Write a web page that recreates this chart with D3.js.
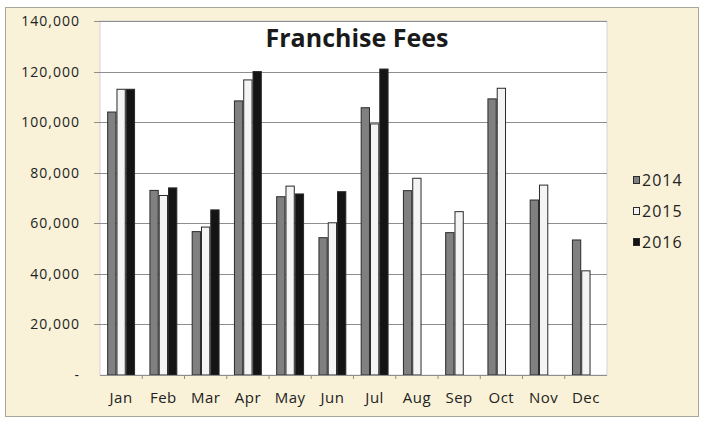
<!DOCTYPE html>
<html>
<head>
<meta charset="utf-8">
<script src="https://cdn.jsdelivr.net/npm/d3@7"></script>
<style>
  body { margin: 0; background: #fff; }
  svg { display: block; font-family: "Open Sans", sans-serif; }
</style>
</head>
<body>
<svg id="chart" width="701" height="421"></svg>
<script>
(function () {
    'use strict';

    const months = ["Jan", "Feb", "Mar", "Apr", "May", "Jun", "Jul", "Aug", "Sep", "Oct", "Nov", "Dec"];
    const years = ["2014", "2015", "2016"];
    const fees2014 = [104000, 73000, 56700, 108400, 70500, 54300, 105700, 72900, 56300, 109200, 69200, 53400];
    const fees2015 = [113000, 71000, 58500, 116700, 74700, 60200, 99300, 77800, 64600, 113400, 75100, 41200];
    const fees2016 = [113000, 74000, 65300, 120000, 71600, 72500, 121000, null, null, null, null, null];
    const yTicks = [0, 20000, 40000, 60000, 80000, 100000, 120000, 140000];

    const seriesValues = [fees2014, fees2015, fees2016];
    const fills = { "2014": "#808080", "2015": "#f4f4f4", "2016": "#141414" };

    const plot = { left: 100, right: 607, top: 21, bottom: 375 };

    const svg = d3.select('#chart');

    // cream frame
    svg.append("rect")
        .attr("x", 5.5).attr("y", 7.5)
        .attr("width", 693).attr("height", 409)
        .attr("fill", "#f9f2d9")
        .attr("stroke", "#a8a59a");

    svg.append("rect")
        .attr("x", plot.left).attr("y", plot.top)
        .attr("width", plot.right - plot.left).attr("height", plot.bottom - plot.top)
        .attr("fill", "#ffffff")
        .attr("stroke", "#d4d4d4");

    const x0 = d3.scaleBand()
            .domain(months)
            .range([plot.left, plot.right])
            .paddingInner(0.34)
            .paddingOuter(0.17);

    const x1 = d3.scaleBand()
            .domain(years)
            .range([0, x0.bandwidth()]);

    const y = d3.scaleLinear()
            .domain([0, 140000])
            .range([plot.bottom, plot.top]);

    // gridlines
    svg.append("g")
        .selectAll("line")
        .data(yTicks.slice(1))
        .join("line")
        .attr("x1", plot.left - 6).attr("x2", plot.right)
        .attr("y1", d => Math.round(y(d)) + 0.5)
        .attr("y2", d => Math.round(y(d)) + 0.5)
        .attr("stroke", "#8e8e8e")
        .attr("stroke-width", 1.2);

    // y labels
    svg.append("g")
        .attr("text-anchor", "end")
        .selectAll("text")
        .data(yTicks)
        .join("text")
        .attr("x", 80)
        .attr("y", d => y(d))
        .attr("dy", "0.36em")
        .attr("font-size", 14)
        .attr("letter-spacing", 1)
        .attr("fill", "#222")
        .text(d => d === 0 ? "-" : d3.format(",d")(d));

    // bars
    const rows = [];
    months.forEach((m, i) => {
        years.forEach((yr, j) => {
            if (seriesValues[j][i] != null) rows.push({ month: m, year: yr, value: seriesValues[j][i] });
        });
    });

    svg.append("g")
        .selectAll("rect")
        .data(rows)
        .join("rect")
        .attr("x", d => x0(d.month) + x1(d.year) + 0.5)
        .attr("y", d => y(d.value))
        .attr("width", x1.bandwidth() - 1)
        .attr("height", d => plot.bottom - y(d.value))
        .attr("fill", d => fills[d.year])
        .attr("stroke", "#2a2a2a")
        .attr("stroke-width", 1);

    // x axis line and ticks
    svg.append("line")
        .attr("x1", plot.left).attr("x2", plot.right)
        .attr("y1", plot.bottom + 0.5).attr("y2", plot.bottom + 0.5)
        .attr("stroke", "#8e8e8e");

    svg.append("g")
        .selectAll("line")
        .data(months.slice(1))
        .join("line")
        .attr("x1", d => x0(d) - x0.step() * x0.paddingInner() / 2)
        .attr("x2", d => x0(d) - x0.step() * x0.paddingInner() / 2)
        .attr("y1", plot.bottom).attr("y2", plot.bottom + 4)
        .attr("stroke", "#8e8e8e");

    svg.append("g")
        .attr("text-anchor", "middle")
        .selectAll("text")
        .data(months)
        .join("text")
        .attr("x", d => x0(d) + x0.bandwidth() / 2)
        .attr("y", 403)
        .attr("font-size", 15)
        .attr("letter-spacing", 0.5)
        .attr("fill", "#222")
        .text(d => d);

    // title
    svg.append("text")
        .attr("x", 357)
        .attr("y", 47)
        .attr("text-anchor", "middle")
        .attr("font-size", 25)
        .attr("font-weight", "bold")
        .attr("fill", "#1a1a1a")
        .text("Franchise Fees");

    // legend
    const legend = svg.append("g")
        .selectAll("g")
        .data(years)
        .join("g")
        .attr("transform", (d, i) => `translate(633,${180 + i * 31})`);

    legend.append("rect")
        .attr("x", 0.5).attr("y", -3.5)
        .attr("width", 6).attr("height", 7)
        .attr("fill", d => fills[d])
        .attr("stroke", "#2a2a2a");

    legend.append("text")
        .attr("x", 9)
        .attr("dy", "0.36em")
        .attr("font-size", 16)
        .attr("letter-spacing", 1)
        .attr("fill", "#222")
        .text(d => d);
}());
</script>
</body>
</html>
